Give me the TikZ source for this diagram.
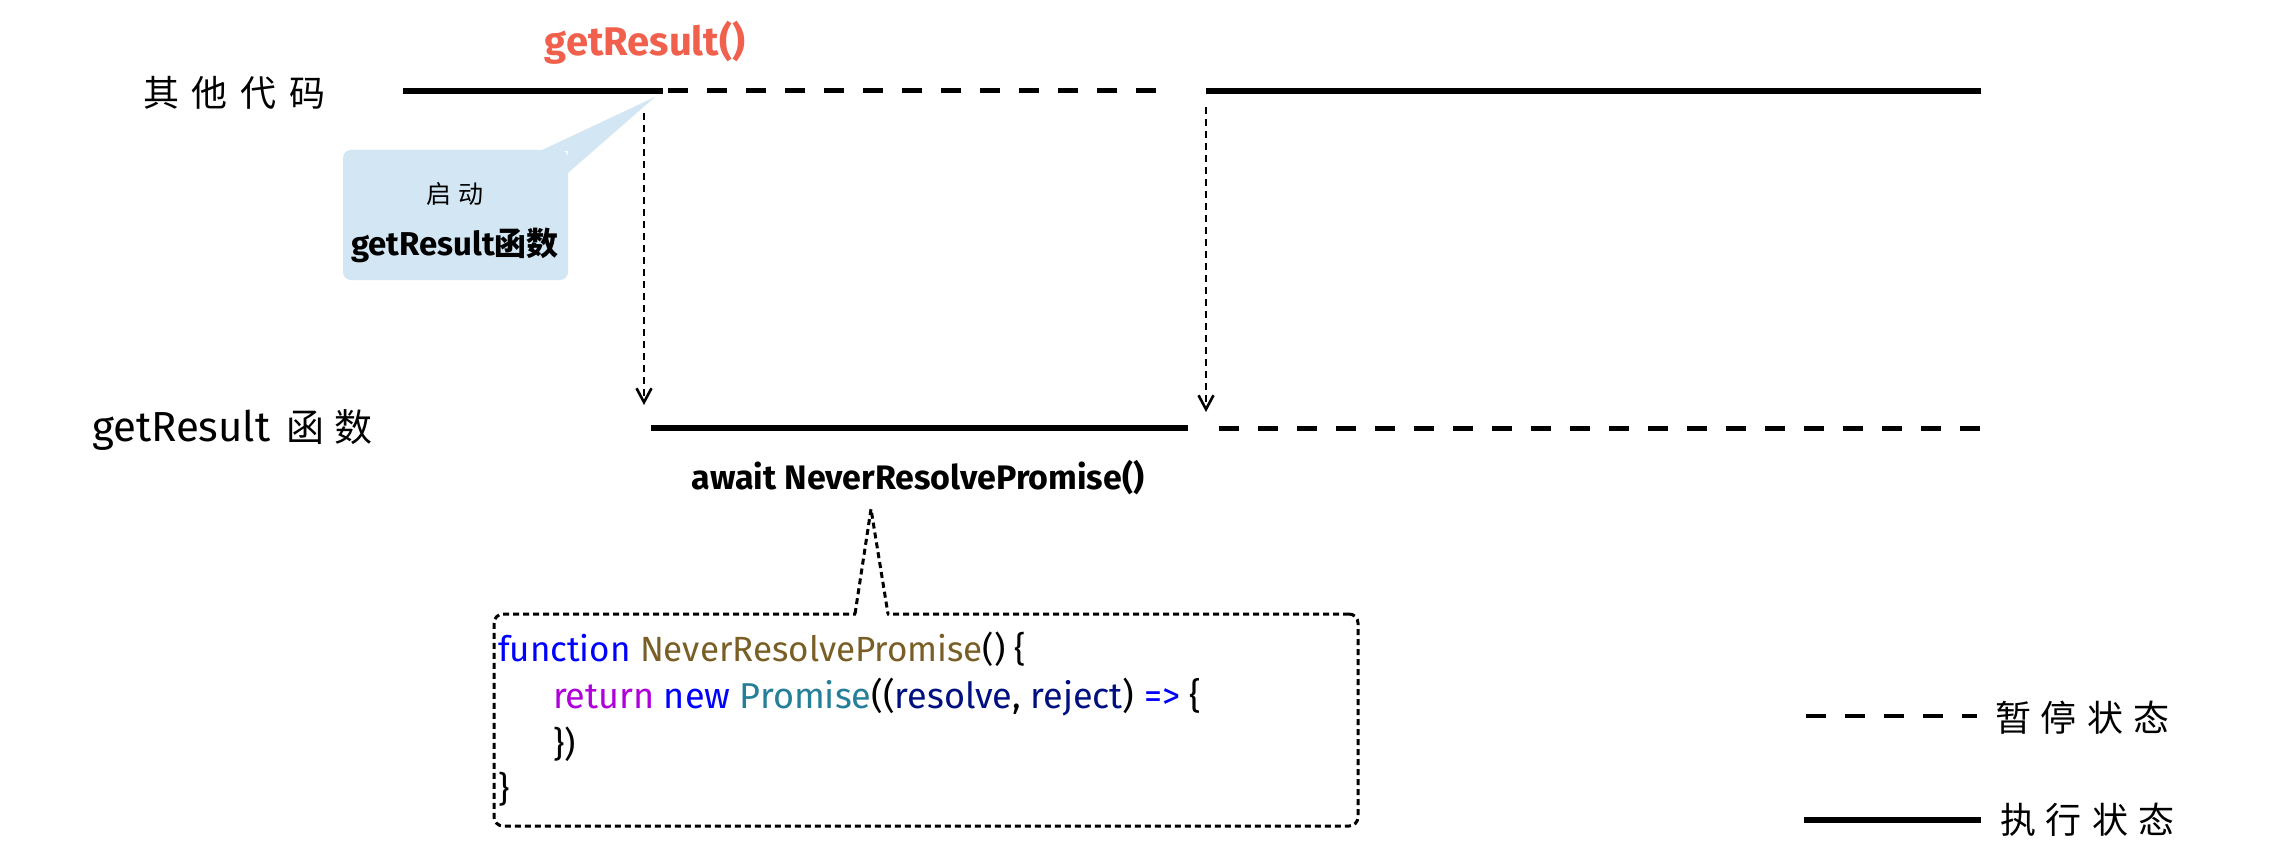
\documentclass[tikz,border=0pt]{standalone}
\usepackage{fontspec}
\setmainfont{Fira Sans}
\newfontfamily\cjk{Noto Sans CJK SC}
\usetikzlibrary{arrows.meta}
\definecolor{redc}{HTML}{F0604D}
\definecolor{calloutc}{HTML}{D3E6F3}
\definecolor{kwblue}{HTML}{0000FF}
\definecolor{fnbrown}{HTML}{795E26}
\definecolor{kwpurple}{HTML}{AF00DB}
\definecolor{clsteal}{HTML}{267F99}
\definecolor{varnavy}{HTML}{001080}
\begin{document}
\begin{tikzpicture}[x=1pt,y=-1pt,
  txt/.style={inner sep=0pt, outer sep=0pt},
  runline/.style={line width=5.5pt},
  pauseline/.style={line width=5pt, dash pattern=on 20pt off 19pt},
  jump/.style={line width=2.6pt, dash pattern=on 7pt off 5pt,
    -{Straight Barb[length=14pt,width=15pt,line width=2.6pt]}},
  codeborder/.style={line width=3pt, dash pattern=on 6pt off 4pt},
  codeline/.style={txt, anchor=base west, font=\fontsize{35}{42}\selectfont},
]
\useasboundingbox (0,0) rectangle (2284,861);
\fill[white] (0,0) rectangle (2284,861);

% labels
\node[txt, anchor=west, font=\cjk\fontsize{36}{40}\selectfont] (lother) at (143,93)
  {其\hspace{13pt}他\hspace{13pt}代\hspace{13pt}码};
\node[txt, anchor=west] (lfunc) at (92,430)
  {\fontsize{42}{48}\selectfont getResult\hspace{16pt}{\cjk\fontsize{38}{42}\selectfont 函\hspace{10pt}数}};
\node[txt, font=\bfseries\fontsize{40}{46}\selectfont, text=redc] (call) at (645,43) {getResult()};

% timeline coordinates
\coordinate (t1) at (403,91);
\coordinate (t2) at (663,91);
\coordinate (t2b) at (668,91);
\coordinate (t3) at (1166,91);
\coordinate (t4) at (1206,91);
\coordinate (t5) at (1981,91);
\coordinate (b1) at (651,428);
\coordinate (b2) at (1188,428);
\coordinate (b3) at (1219,428);
\coordinate (b4) at (1997,428);
\draw[runline] (t1) -- (t2);
\draw[pauseline] (t2b) -- (t3);
\draw[runline] (t4) -- (t5);
\draw[runline] (b1) -- (b2);
\draw[pauseline] (b3) -- (b4);

% jump arrows
\coordinate (a1s) at (644,113);
\coordinate (a1e) at (644,405);
\coordinate (a2s) at (1206,107);
\coordinate (a2e) at (1206,412);
\draw[jump] (a1s) -- (a1e);
\draw[jump] (a2s) -- (a2e);

% callout
\node[fill=calloutc, rounded corners=8pt, minimum width=225pt, minimum height=130pt,
      inner sep=0pt] (cbox) at (455.5,215) {};
\coordinate (ctip) at (655,97);
\fill[calloutc] (540,151) -- (ctip) -- (567.9,173) -- (567.9,151) -- cycle;
\node[txt, font=\cjk\fontsize{25}{28}\selectfont] (cstart) at (455,194) {启\hspace{7pt}动};
\node[txt] (cname) at (455,245)
  {\bfseries\fontsize{33}{38}\selectfont getResult{\cjk\bfseries\fontsize{32}{36}\selectfont 函数}};

% await
\node[txt, font=\bfseries\fontsize{34}{40}\selectfont] (await) at (918,478) {await NeverResolvePromise()};

% code box
\node[codeborder, draw, rounded corners=9pt, minimum width=864pt, minimum height=212pt,
      inner sep=0pt] (code) at (926,720) {};
\coordinate (pl) at (855,614);
\coordinate (pr) at (888,614);
\coordinate (papex) at (871,509);
\fill[white] (856,610) rectangle (887,618);
\draw[codeborder] (pl) -- (papex) -- (pr);

\node[codeline] (c1) at (498,661)
  {\textcolor{kwblue}{function} \textcolor{fnbrown}{NeverResolvePromise}() \{};
\node[codeline, font=\fontsize{36}{42}\selectfont] (c2) at (553,708)
  {\textcolor{kwpurple}{return} \textcolor{kwblue}{new} \textcolor{clsteal}{Promise}((\textcolor{varnavy}{resolve}, \textcolor{varnavy}{reject}) \textcolor{kwblue}{=>} \{};
\node[codeline] (c3) at (553,756) {\})};
\node[codeline] (c4) at (498,801) {\}};

% legend
\coordinate (lg1a) at (1806,716);
\coordinate (lg1b) at (1977,716);
\coordinate (lg2a) at (1804,820);
\coordinate (lg2b) at (1981,820);
\draw[line width=3.5pt, dash pattern=on 20pt off 19pt] (lg1a) -- (lg1b);
\draw[line width=6pt] (lg2a) -- (lg2b);
\node[txt, anchor=west, font=\cjk\fontsize{36}{40}\selectfont] (lgpause) at (1995,718)
  {暂\hspace{10pt}停\hspace{10pt}状\hspace{10pt}态};
\node[txt, anchor=west, font=\cjk\fontsize{36}{40}\selectfont] (lgrun) at (2000,820)
  {执\hspace{10pt}行\hspace{10pt}状\hspace{10pt}态};
\end{tikzpicture}
\end{document}
